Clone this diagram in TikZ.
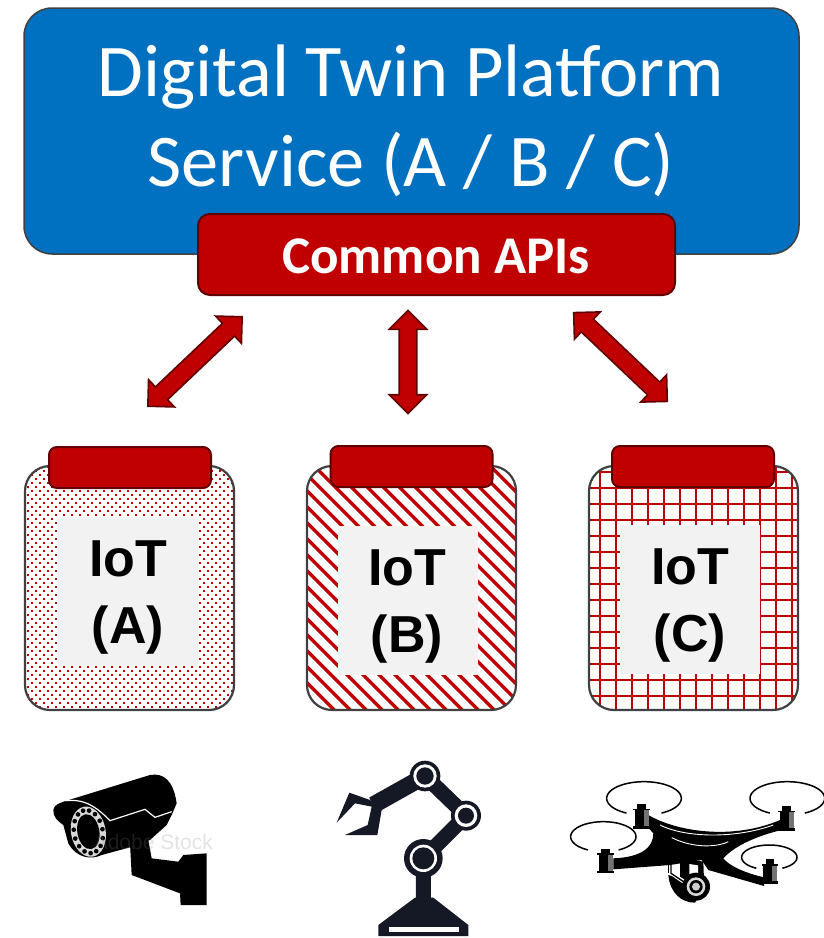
\documentclass[tikz,border=0pt]{standalone}
\usepackage{fontspec}
\setmainfont{Carlito}
\newfontfamily\iotfont{Liberation Sans}
\usetikzlibrary{shapes.arrows}
\definecolor{twinblue}{HTML}{0070C0}
\definecolor{apired}{HTML}{C00000}
\definecolor{apiedge}{HTML}{600000}
\definecolor{panelgray}{HTML}{F2F2F2}
\definecolor{paneledge}{HTML}{404040}
\definecolor{robotink}{HTML}{151926}
\tikzset{
  platform/.style={draw=paneledge,line width=1.5pt,fill=twinblue,rounded corners=28pt,minimum width=775pt,minimum height=246pt},
  apibox/.style={draw=apiedge,line width=2pt,fill=apired,rounded corners=12pt,minimum width=477pt,minimum height=81pt,text=white},
  tabbox/.style={draw=apiedge,line width=2pt,fill=apired,rounded corners=8pt,minimum width=162pt,minimum height=41pt},
  panel/.style={outer sep=0pt,minimum width=209pt,minimum height=244pt},
  panelline/.style={draw=paneledge,line width=2.2pt,rounded corners=25pt},
  iotbox/.style={fill=panelgray,minimum width=140pt,minimum height=149pt,inner sep=0pt},
  iotlabel/.style={align=center,inner sep=0pt,font=\iotfont\bfseries\fontsize{52}{67}\selectfont},
  linkarrow/.style={shape=double arrow,draw=apiedge,line width=1.6pt,fill=apired,inner xsep=0pt,inner ysep=8pt,
    minimum height=#1,double arrow head extend=10pt,double arrow tip angle=90},
}
\begin{document}
\begin{tikzpicture}[x=1pt,y=-1pt]
\useasboundingbox (0,0) rectangle (823,938);
% top boxes
\node[platform] (platform) at (411.5,131) {};
\node[text=white,align=center,inner sep=0pt,font=\fontsize{74.4}{90}\selectfont] (title) at (411,121)
  {Digital Twin Platform\\Service (A / B / C)};
\node[apibox] (apis) at (436.5,254.5) {};
\node[text=white,inner sep=0pt,font=\bfseries\fontsize{53}{56}\selectfont] (apitext) at (436,256.5) {Common APIs};
% arrows
\node[linkarrow=130pt,rotate=43.5] (linkA) at (195,361.5) {};
\node[linkarrow=103pt,rotate=90] (linkB) at (408,362) {};
\node[linkarrow=129pt,rotate=-43.5] (linkC) at (620.5,357) {};
% panels
\node[panel] (panelA) at (129.5,588) {};
\node[panel] (panelB) at (411.5,588) {};
\node[panel] (panelC) at (693.5,588) {};
% dots
\begin{scope}
\path[clip,rounded corners=25pt] (panelA.south west) rectangle (panelA.north east);
\foreach \row in {0,...,61}
  \foreach \col in {0,...,26}
    \fill[apired] ({23+8*\col+4*mod(\row,2)},{466+4*\row}) rectangle ++(2,2);
\end{scope}
% stripes
\begin{scope}
\path[clip,rounded corners=25pt] (panelB.south west) rectangle (panelB.north east);
\foreach \col in {-16,...,13}
  \draw[apired,line width=3.3pt] ({306+16*\col+2.3},460) --++ (260,260);
\end{scope}
% grid
\begin{scope}
\path[clip,rounded corners=25pt] (panelC.south west) rectangle (panelC.north east);
\foreach \col in {0,...,12}
  \draw[apired,line width=1.8pt] ({600+16*\col},460) --++ (0,260);
\foreach \row in {0,...,14}
  \draw[apired,line width=1.8pt] (580,{472+16*\row}) --++ (230,0);
\end{scope}
% edges go over the fill
\foreach \p in {panelA,panelB,panelC}
  \draw[panelline] (\p.south west) rectangle (\p.north east);
\node[tabbox] (tabA) at (130,467.5) {};
\node[tabbox] (tabB) at (411.5,466.5) {};
\node[tabbox] (tabC) at (693,466.5) {};
\node[iotbox] (iotA) at (128,591.5) {};
\node[iotbox] (iotB) at (408,600.5) {};
\node[iotbox] (iotC) at (690,599.5) {};
\node[iotlabel] (labelA) at (128,597) {IoT\\(A)};
\node[iotlabel] (labelB) at (407,606.5) {IoT\\(B)};
\node[iotlabel] (labelC) at (690,605.5) {IoT\\(C)};
% camera
\begin{scope}[shift={(30,760)},scale=1/3]
\fill[black] (300,250) -- (305,345) -- (450,400) -- (452,435) -- (530,435) -- (530,280) -- (460,285) -- (445,305) -- (365,295) -- (355,240) -- cycle;
\fill[black] (70,150) .. controls (72,135) and (85,130) .. (110,122) -- (360,45)
  .. controls (400,38) and (430,60) .. (440,130) -- (425,165) -- (410,195) -- (360,240) -- (300,262) -- (215,285)
  .. controls (185,300) and (140,295) .. (115,250) -- (100,195) .. controls (85,185) and (68,170) .. (70,150) -- cycle;
\draw[white,line width=1.2pt] (105,122) .. controls (150,118) and (185,125) .. (240,182) -- (345,148) -- (375,172) -- (425,155);
\begin{scope}[shift={(175,215)},rotate=10]
\fill[white!85!black] (0,0) ellipse [x radius=52,y radius=76];
\foreach \a in {0,24,...,336}
  \fill[black] ({43*cos(\a)},{65*sin(\a)}) circle [radius=7];
\fill[black] (0,0) ellipse [x radius=33,y radius=53];
\end{scope}
\node[opacity=0.22,text=gray,inner sep=0pt,font=\iotfont\fontsize{21}{24}\selectfont] (stock) at (370,245) {Adobe Stock};
\end{scope}
% robot
\begin{scope}[shift={(320,750)},scale=1/3,robotink]
\draw[line width=15pt] (315,78) -- (438,197) -- (310,325) -- (310,450);
\draw[line width=17pt] (315,78) -- (160,165);
\fill (150,150) -- (88,128) -- (50,218) -- (105,160) -- (155,170) -- (143,225) -- (75,255) -- (172,255) -- (185,180) -- cycle;
\fill (285,443) -- (340,443) -- (445,525) -- (445,558) -- (175,558) -- (175,525) -- cycle;
\fill[white] (208,532) rectangle (418,546);
\foreach \cx/\cy/\outr/\midr/\inr in {315/78/46/35/26,438/197/45/34/24,310/325/58/41/33}{
  \fill (\cx,\cy) circle [radius=\outr];
  \fill[white] (\cx,\cy) circle [radius=\midr];
  \fill (\cx,\cy) circle [radius=\inr];
}
\end{scope}
% drone
\begin{scope}[shift={(560,770)},scale=1/3]
\foreach \cx/\cy/\radx/\rady in {252/85/112/50,682/85/112/50,130/200/98/45,628/262/83/37}
  \draw[black,line width=1.5pt] plot[domain=118:422,samples=60,smooth] ({\cx+\radx*cos(\x)},{\cy+\rady*sin(\x)});
\fill[black] (265,135) .. controls (350,185) and (520,212) .. (665,148) -- (665,180)
  .. controls (600,195) and (525,225) .. (490,265) .. controls (510,290) and (560,310) .. (612,322)
  -- (612,348) -- (445,300) -- (425,270) -- (330,285) -- (160,298) -- (160,265)
  .. controls (240,262) and (280,235) .. (280,190) -- (262,170) -- cycle;
\draw[white,line width=0.9pt] (300,165) .. controls (380,205) and (530,205) .. (640,165);
\draw[white,line width=0.9pt] (335,203) .. controls (400,235) and (470,232) .. (505,215);
\foreach \cx/\ctop in {245/102,680/108,137/236,630/268}{
  \fill[black] ({\cx-13},\ctop) rectangle ({\cx+13},{\ctop+14});
  \fill[black] ({\cx-25},{\ctop+14}) rectangle ({\cx+25},{\ctop+19});
  \fill[black!55] ({\cx-21},{\ctop+19}) rectangle ({\cx+21},{\ctop+66});
  \fill[black] ({\cx-21},{\ctop+19}) rectangle ({\cx+6},{\ctop+66});
  \fill[black] ({\cx-25},{\ctop+66}) rectangle ({\cx+25},{\ctop+74});
}
% drone camera
\fill[black] (360,262) -- (430,275) -- (432,330) -- (385,335) -- (360,320) -- cycle;
\fill[white] (388,282) -- (414,286) -- (414,310) -- (388,312) -- cycle;
\draw[black,line width=1.3pt] (325,258) -- (325,310);
\draw[black,line width=1.3pt] (333,258) -- (333,310) -- (378,340);
\fill[black] (325,315) .. controls (330,370) and (365,398) .. (405,398) -- (440,340) -- (375,345) -- (335,318) -- cycle;
\fill[black] (408,350) circle [radius=42];
\fill[white!85!black] (408,350) circle [radius=28];
\fill[black] (408,350) circle [radius=20];
\fill[white!80!black] (408,350) circle [radius=12];
\end{scope}
\end{tikzpicture}
\end{document}
